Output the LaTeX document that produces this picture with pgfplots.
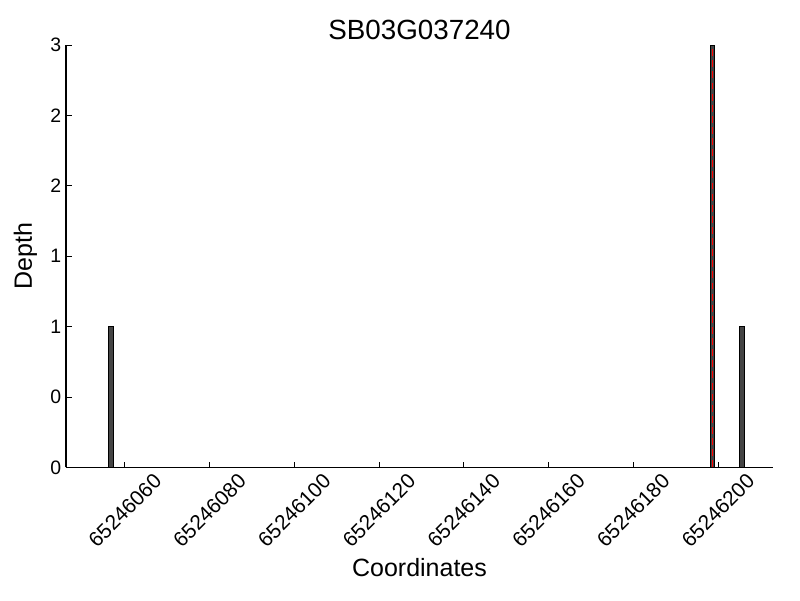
\documentclass[border=0pt]{standalone}
\usepackage{pgfplots}
\pgfplotsset{compat=1.18}
\usepackage{fontspec}
\setmainfont{Liberation Sans}
\definecolor{bargray}{HTML}{444444}
\begin{document}
\begin{tikzpicture}
% x values are offsets from 65246000
\begin{axis}[
    at={(0,0)}, anchor=south west,
    scale only axis,
    width=509pt, height=304pt,
    xmin=46.1, xmax=213,
    ymin=0, ymax=3,
    axis x line*=bottom,
    axis y line*=left,
    axis line style={-, line width=0.8pt},
    tick align=inside,
    major tick length=4pt,
    tick style={black, line width=0.6pt},
    xtick={60,80,100,120,140,160,180,200},
    xticklabels={65246060,65246080,65246100,65246120,65246140,65246160,65246180,65246200},
    ytick={0,0.5,1,1.5,2,2.5,3},
    yticklabels={0,0,1,1,2,2,3},
    x tick label style={yshift=-31pt, rotate=45, anchor=center, font=\fontsize{15}{17}\selectfont},
    y tick label style={font=\fontsize{14}{16}\selectfont},
    /pgf/number format/assume math mode=true,
    title={SB03G037240},
    title style={at={(axis description cs:0.5,1)}, anchor=south, yshift=-6pt, font=\fontsize{20}{22}\selectfont},
    xlabel={Coordinates},
    ylabel={Depth},
    every axis x label/.style={at={(axis description cs:0.5,0)}, anchor=north, yshift=-62pt, font=\fontsize{18}{20}\selectfont},
    every axis y label/.style={at={(axis description cs:-0.034,0.5)}, rotate=90, anchor=south, font=\fontsize{18}{20}\selectfont},
    clip=false,
]
\addplot[ybar, bar width=1.1, fill=bargray, draw=black, line width=0.5pt] coordinates {
    (56.7,1) (198.7,3) (205.7,1)
};
\addplot[red, line width=1.3pt, dash pattern=on 5pt off 3pt] coordinates {
    (198.7,0) (198.7,3)
};
\end{axis}
\path (-47.5pt,-95.8pt) rectangle (528.4pt,336.4pt);
\end{tikzpicture}
\end{document}
